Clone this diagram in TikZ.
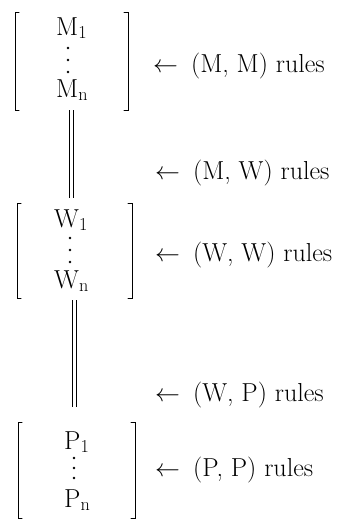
\documentclass[tikz,border=0pt]{standalone}
\usepackage{fontspec}
\tikzset{
  frame/.style={draw=none, inner sep=0, outer sep=0},
  brack/.style={line width=1pt, line cap=round},
  lbl/.style={anchor=base west, inner sep=0, font=\fontsize{26}{30}\selectfont},
  entrytext/.style={anchor=base west, inner sep=0, font=\fontsize{26}{30}\selectfont},
  dotmark/.style={circle, fill, inner sep=0, minimum size=2.6pt},
  dbl/.style={double, double distance=3pt, line width=0.7pt}
}
\newcommand\bracketpair[1]{%
  \draw[brack] ([xshift=4pt]#1.north west) -- (#1.north west) -- (#1.south west) -- ([xshift=4pt]#1.south west);
  \draw[brack] ([xshift=-4pt]#1.north east) -- (#1.north east) -- (#1.south east) -- ([xshift=-4pt]#1.south east);}
\begin{document}
\begin{tikzpicture}[x=1pt,y=-1pt]
\useasboundingbox (0,0) rectangle (343,520);
% boxes
\node[frame, minimum width=113pt, minimum height=98pt] (M) at (71.5,61) {};
\node[frame, minimum width=115pt, minimum height=95pt] (W) at (74.5,250.5) {};
\node[frame, minimum width=117pt, minimum height=96pt] (P) at (76.5,470) {};
\bracketpair{M}
\bracketpair{W}
\bracketpair{P}
% contents
\node[entrytext] (M1) at (56,35) {M\textsubscript{1}};
\node[dotmark] (Md1) at (68,48) {};
\node[dotmark] (Md2) at (68,60) {};
\node[dotmark] (Md3) at (68,72) {};
\node[entrytext] (Mn) at (56,97) {M\textsubscript{n}};
\node[entrytext] (W1) at (54,227) {W\textsubscript{1}};
\node[dotmark] (Wd1) at (70,238) {};
\node[dotmark] (Wd2) at (70,250) {};
\node[dotmark] (Wd3) at (70,262) {};
\node[entrytext] (Wn) at (54,288) {W\textsubscript{n}};
\node[entrytext] (P1) at (64,449) {P\textsubscript{1}};
\node[dotmark] (Pd1) at (74,458) {};
\node[dotmark] (Pd2) at (74,468) {};
\node[dotmark] (Pd3) at (74,478) {};
\node[entrytext] (Pn) at (64,507) {P\textsubscript{n}};
% connectors
\draw[dbl, shorten >=5pt] (M.south) -- (M.south |- W.north);
\draw[dbl, shorten <=2pt, shorten >=15pt] (W.south) -- (W.south |- P.north);
% labels
\node[lbl] (LMM) at (153,72) {$\leftarrow$\hspace{0.5em}(M, M) rules};
\node[lbl] (LMW) at (155,179) {$\leftarrow$\hspace{0.5em}(M, W) rules};
\node[lbl] (LWW) at (155,261) {$\leftarrow$\hspace{0.5em}(W, W) rules};
\node[lbl] (LWP) at (155,401) {$\leftarrow$\hspace{0.5em}(W, P) rules};
\node[lbl] (LPP) at (155,476) {$\leftarrow$\hspace{0.5em}(P, P) rules};
\end{tikzpicture}
\end{document}
